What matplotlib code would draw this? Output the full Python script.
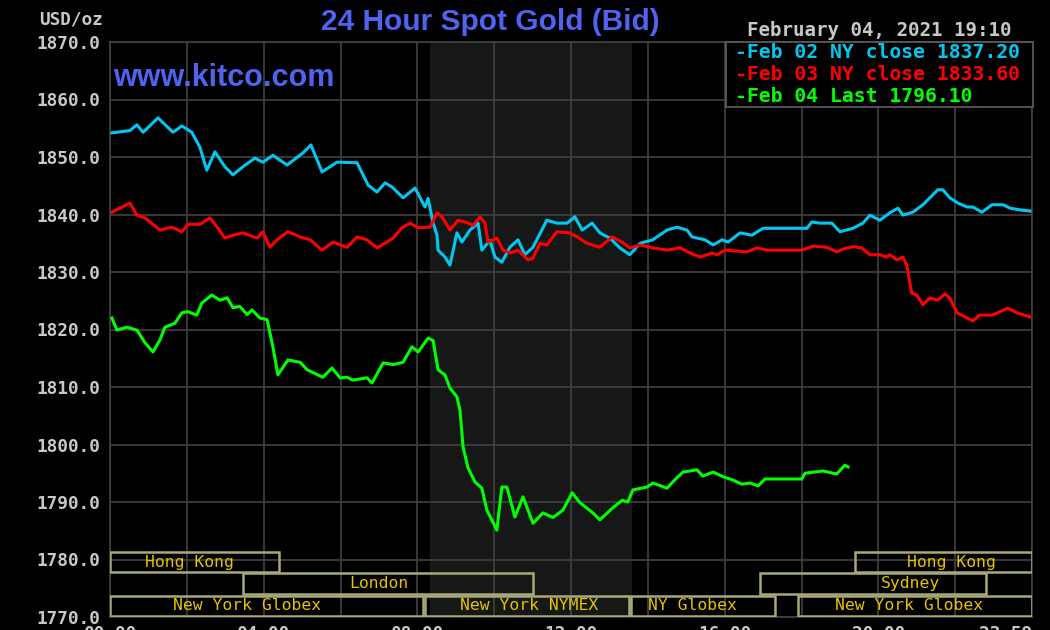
# kitco style 24 hour spot gold chart
import matplotlib
matplotlib.use('Agg')
import matplotlib.pyplot as plt
from matplotlib.patches import Rectangle

# hours since midnight and bid price
hrs_feb02 = [0.05, 0.52, 0.70, 0.86, 1.25, 1.64, 1.87, 2.13, 2.34, 2.52, 2.73, 2.99, 3.20, 3.46, 3.77, 3.98,
             4.24, 4.61, 5.02, 5.23, 5.52, 5.91, 6.43, 6.72, 6.95, 7.16, 7.34, 7.63, 7.94, 8.20, 8.28, 8.41,
             8.51, 8.54, 8.72, 8.85, 9.03, 9.16, 9.37, 9.58, 9.68, 9.89, 10.02, 10.20, 10.41, 10.62, 10.80,
             11.01, 11.37, 11.63, 11.90, 12.10, 12.29, 12.55, 12.75, 13.01, 13.27, 13.53, 13.80, 14.13, 14.50,
             14.76, 15.02, 15.15, 15.49, 15.70, 15.93, 16.09, 16.40, 16.71, 16.92, 17.00, 18.14, 18.27, 18.48,
             18.79, 19.00, 19.34, 19.60, 19.78, 20.04, 20.30, 20.51, 20.64, 20.90, 21.16, 21.34, 21.55, 21.68,
             21.86, 22.07, 22.31, 22.46, 22.70, 22.96, 23.24, 23.43, 23.69, 23.95]
px_feb02 = [1854.2, 1854.6, 1855.6, 1854.3, 1856.8, 1854.3, 1855.4, 1854.3, 1851.7, 1847.7, 1850.9, 1848.3,
            1846.9, 1848.3, 1849.8, 1849.1, 1850.3, 1848.6, 1850.7, 1852.1, 1847.4, 1849.1, 1849.0, 1845.1,
            1843.9, 1845.5, 1844.8, 1842.9, 1844.6, 1841.3, 1842.8, 1838.5, 1836.5, 1833.8, 1832.6, 1831.2,
            1836.8, 1835.2, 1837.3, 1838.5, 1833.8, 1835.5, 1832.6, 1831.7, 1834.3, 1835.6, 1833.0, 1834.3,
            1839.0, 1838.5, 1838.5, 1839.6, 1837.3, 1838.5, 1836.8, 1835.9, 1834.2, 1833.0, 1835.0, 1835.6,
            1837.3, 1837.8, 1837.3, 1836.1, 1835.6, 1834.7, 1835.6, 1835.2, 1836.8, 1836.4, 1837.3, 1837.6,
            1837.6, 1838.7, 1838.5, 1838.5, 1837.0, 1837.6, 1838.5, 1839.9, 1839.0, 1840.3, 1841.1, 1839.9,
            1840.4, 1841.7, 1842.9, 1844.3, 1844.3, 1842.9, 1842.0, 1841.3, 1841.3, 1840.4, 1841.7, 1841.7,
            1841.1, 1840.8, 1840.6]

hrs_feb03 = [0.05, 0.52, 0.70, 0.91, 1.30, 1.61, 1.87, 2.03, 2.34, 2.60, 2.79, 2.99, 3.20, 3.46, 3.83, 3.98,
             4.16, 4.35, 4.63, 4.95, 5.21, 5.52, 5.80, 6.17, 6.43, 6.69, 6.95, 7.21, 7.37, 7.60, 7.81, 8.02,
             8.33, 8.51, 8.64, 8.85, 9.06, 9.29, 9.45, 9.63, 9.76, 9.84, 10.07, 10.23, 10.41, 10.62, 10.88,
             11.01, 11.19, 11.37, 11.63, 11.97, 12.16, 12.42, 12.75, 13.07, 13.33, 13.53, 13.80, 14.13, 14.50,
             14.84, 15.10, 15.36, 15.67, 15.80, 16.01, 16.58, 16.84, 17.10, 18.01, 18.30, 18.66, 18.92, 19.08,
             19.34, 19.57, 19.78, 20.04, 20.22, 20.30, 20.48, 20.64, 20.74, 20.87, 21.00, 21.16, 21.34, 21.55,
             21.73, 21.86, 22.05, 22.25, 22.46, 22.64, 22.96, 23.37, 23.61, 23.95]
px_feb03 = [1840.4, 1842.0, 1839.9, 1839.4, 1837.3, 1837.8, 1837.0, 1838.3, 1838.3, 1839.4, 1837.8, 1835.9,
            1836.4, 1836.8, 1835.9, 1837.0, 1834.3, 1835.6, 1837.0, 1836.1, 1835.6, 1833.8, 1835.2, 1834.3,
            1836.1, 1835.6, 1834.2, 1835.2, 1835.9, 1837.7, 1838.5, 1837.7, 1837.8, 1840.3, 1839.6, 1837.3,
            1839.0, 1838.6, 1838.1, 1839.6, 1838.5, 1835.2, 1835.9, 1833.8, 1833.3, 1833.8, 1832.1, 1832.4,
            1835.0, 1834.7, 1837.0, 1836.8, 1836.1, 1835.0, 1834.3, 1836.1, 1835.2, 1834.2, 1834.7, 1834.2,
            1833.8, 1834.2, 1833.3, 1832.6, 1833.3, 1833.0, 1833.8, 1833.5, 1834.2, 1833.8, 1833.8, 1834.5,
            1834.3, 1833.5, 1834.0, 1834.4, 1834.2, 1833.0, 1833.0, 1832.6, 1833.0, 1832.1, 1832.6, 1831.2,
            1826.3, 1826.0, 1824.3, 1825.5, 1825.1, 1826.2, 1825.5, 1822.9, 1822.2, 1821.5, 1822.5, 1822.5,
            1823.7, 1822.9, 1822.2]

hrs_feb04 = [0.05, 0.18, 0.44, 0.70, 0.91, 1.12, 1.30, 1.43, 1.69, 1.87, 2.03, 2.26, 2.39, 2.65, 2.86, 3.05,
             3.20, 3.38, 3.57, 3.70, 3.90, 4.09, 4.24, 4.37, 4.63, 4.95, 5.13, 5.54, 5.78, 5.99, 6.17, 6.32,
             6.69, 6.82, 7.11, 7.37, 7.63, 7.86, 8.02, 8.28, 8.41, 8.54, 8.72, 8.85, 9.03, 9.11, 9.19, 9.32,
             9.50, 9.68, 9.81, 10.07, 10.20, 10.33, 10.54, 10.75, 11.01, 11.27, 11.53, 11.79, 12.03, 12.23,
             12.57, 12.75, 13.09, 13.33, 13.48, 13.61, 13.98, 14.13, 14.50, 14.65, 14.91, 15.28, 15.43, 15.70,
             15.96, 16.22, 16.45, 16.66, 16.87, 17.05, 18.01, 18.09, 18.56, 18.82, 18.92, 19.13, 19.21]
px_feb04 = [1822.0, 1819.9, 1820.4, 1819.9, 1817.7, 1816.1, 1818.2, 1820.4, 1821.1, 1822.9, 1823.1, 1822.5,
            1824.6, 1826.0, 1825.1, 1825.5, 1823.8, 1824.0, 1822.6, 1823.4, 1822.0, 1821.7, 1817.0, 1812.1,
            1814.7, 1814.3, 1813.0, 1811.7, 1813.3, 1811.6, 1811.7, 1811.2, 1811.6, 1810.7, 1814.2, 1813.9,
            1814.3, 1817.0, 1816.1, 1818.5, 1818.1, 1813.0, 1812.1, 1809.8, 1808.3, 1806.0, 1799.6, 1795.9,
            1793.5, 1792.4, 1788.6, 1785.1, 1792.6, 1792.6, 1787.4, 1790.9, 1786.3, 1788.1, 1787.3, 1788.6,
            1791.6, 1789.9, 1788.1, 1786.9, 1789.0, 1790.3, 1790.0, 1792.1, 1792.6, 1793.3, 1792.4, 1793.5,
            1795.2, 1795.6, 1794.5, 1795.2, 1794.4, 1793.8, 1793.1, 1793.3, 1792.8, 1794.0, 1794.0, 1795.0,
            1795.4, 1795.0, 1794.9, 1796.4, 1796.1]

legend_labels = ['Feb 02 NY close 1837.20', 'Feb 03 NY close 1833.60', 'Feb 04 Last 1796.10']
y_ticks = [1770, 1780, 1790, 1800, 1810, 1820, 1830, 1840, 1850, 1860, 1870]
x_tick_hrs = [0, 4, 8, 12, 16, 20, 24]
x_tick_labels = ['00:00', '04:00', '08:00', '12:00', '16:00', '20:00', '23:59']

# trading sessions: name, start hour, end hour, row (0 = bottom), label hour
sess_names = ['Hong Kong', 'Hong Kong', 'London', 'Sydney',
              'New York Globex', 'New York NYMEX', 'NY Globex', 'New York Globex']
sess_start = [0.0, 19.4, 3.45, 16.93, 0.0, 8.2, 13.55, 17.9]
sess_end = [4.4, 24.0, 11.0, 22.8, 8.15, 13.5, 17.3, 24.0]
sess_row = [2, 2, 1, 1, 0, 0, 0, 0]
sess_label_hr = [2.08, 21.9, 7.0, 20.85, 3.57, 10.9, 15.15, 20.8]
nymex_open, nymex_close = 8.33, 13.55

c_cyan = '#00c8f0'
c_red = '#ff0000'
c_green = '#00ff00'
c_grey = '#c8c8c8'
c_blue = '#4f62f0'
mono = 'DejaVu Sans Mono'

fig = plt.figure(figsize=(10.5, 6.3), dpi=100, facecolor='black')
ax = fig.add_axes([110/1050, 1-617/630, 922/1050, 575/630])
ax.set_facecolor('black')
ax.set_xlim(0, 24)
ax.set_ylim(1770, 1870)

# shaded NYMEX hours
ax.axvspan(nymex_open, nymex_close, color='#161818', zorder=0)

ax.set_yticks(y_ticks)
ax.grid(True, color='#424242', lw=1.2, zorder=1)
for s in ax.spines.values():
    s.set_color('#424242')
    s.set_linewidth(1.2)

ax.set_yticklabels(['%.1f' % v for v in y_ticks], family=mono, fontweight='bold',
                   fontsize=12.8, color=c_grey)
ax.tick_params(axis='y', length=0, pad=7)
ax.set_xticks(x_tick_hrs)
ax.set_xticks(range(0, 25, 2), minor=True)
ax.grid(True, which='minor', color='#424242', lw=1.2, zorder=1)
ax.set_xticklabels(x_tick_labels, family=mono, fontweight='bold', fontsize=12.8, color=c_grey)
ax.tick_params(axis='x', which='both', length=0, pad=6)
ax.get_xticklabels()[-1].set_ha('right')

ax.plot(hrs_feb02, px_feb02, color=c_cyan, lw=2.2, zorder=3)
ax.plot(hrs_feb03, px_feb03, color=c_red, lw=2.2, zorder=4)
ax.plot(hrs_feb04, px_feb04, color=c_green, lw=2.2, zorder=5)

# session bars at the bottom
row_lo = [1770.2, 1774.0, 1777.8]
row_hi = [1773.65, 1777.6, 1781.3]
for name, a, b, r, lh in zip(sess_names, sess_start, sess_end, sess_row, sess_label_hr):
    ax.add_patch(Rectangle((a, row_lo[r]), b - a, row_hi[r] - row_lo[r], fill=False,
                           edgecolor='#a8a878', lw=1.8, zorder=6))
    ax.text(lh, (row_lo[r] + row_hi[r]) / 2, name, family=mono, fontsize=11.8,
            color='#e6c200', ha='center', va='center', zorder=7)

# legend box
leg_x0 = 726/1050
leg_y0 = 1 - 107/630
fig.patches.append(Rectangle((leg_x0, leg_y0), 307/1050, 65/630, transform=fig.transFigure,
                             facecolor='black', edgecolor='#606060', lw=1.2, zorder=10))
for i, (lab, col) in enumerate(zip(legend_labels, [c_cyan, c_red, c_green])):
    fig.text(735/1050, 1 - (53 + 21.5*i)/630, '-' + lab, family=mono, fontweight='bold',
             fontsize=14.2, color=col, va='center', ha='left', zorder=11)

fig.text(490/1050, 1 - 22/630, '24 Hour Spot Gold (Bid)', family='Liberation Sans',
         fontweight='bold', fontsize=21.5, color=c_blue, ha='center', va='center')
fig.text(113/1050, 1 - 78/630, 'www.kitco.com', family='Liberation Sans',
         fontweight='bold', fontsize=22, color=c_blue, ha='left', va='center')
fig.text(103/1050, 1 - 19/630, 'USD/oz', family=mono, fontweight='bold',
         fontsize=12.8, color=c_grey, ha='right', va='center')
fig.text(879/1050, 1 - 30/630, 'February 04, 2021 19:10', family=mono, fontweight='bold',
         fontsize=13.8, color=c_grey, ha='center', va='center')

fig.savefig('out.png', dpi=100, facecolor='black')
